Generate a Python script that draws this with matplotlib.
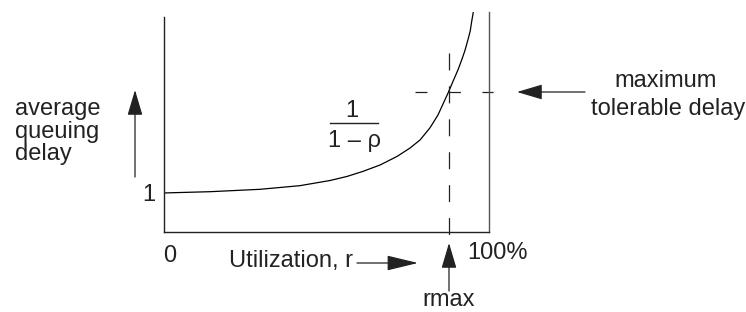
import numpy as np
import matplotlib
matplotlib.use("Agg")
import matplotlib.pyplot as plt
from matplotlib.patches import ArrowStyle

plt.rcParams['font.family'] = ['Liberation Sans', 'DejaVu Sans']
plt.rcParams['lines.scale_dashes'] = False

# curve (utilization, average queuing delay)
utilization = [0, 0.142, 0.295, 0.418, 0.511, 0.563, 0.612, 0.665, 0.717,
               0.757, 0.788, 0.818, 0.843, 0.874, 0.889, 0.905, 0.917,
               0.926, 0.935, 0.942, 0.947, 0.952]
delay = [1.0, 1.09, 1.26, 1.52, 1.89, 2.18, 2.54, 3.0, 3.61,
         4.21, 4.79, 5.64, 6.57, 8.14, 8.96, 9.82, 10.57,
         11.18, 11.93, 12.55, 13.29, 13.96]

rmax = 0.877
max_delay = 8.21
y_ticks = [1]
y_tick_labels = ['1']

FS = 17
INK = '#222222'

fig = plt.figure(figsize=(7.46, 3.12), dpi=100)

# main plot box (pixel box 164..489 x 12..232)
ax = fig.add_axes([164 / 746, 80 / 312, 325 / 746, 220 / 312])
ax.set_xlim(0, 1)
ax.set_ylim(-1.79, 13.93)
ax.plot(utilization, delay, color='black', lw=0.9,
        solid_joinstyle='round')

# rmax / max tolerable delay guides
ax.plot([rmax, rmax], [11.0, -2.07], color=INK, lw=0.9,
        dashes=(12.2, 11.5), clip_on=False)
ax.plot([0.772, 1.012], [max_delay, max_delay], color=INK, lw=0.9,
        dashes=(8.6, 15.5), clip_on=False)

ax.spines['top'].set_visible(False)
ax.spines['left'].set_bounds(-1.79, 13.57)
ax.spines['left'].set_color(INK)
ax.spines['bottom'].set_color(INK)
ax.spines['right'].set_color('#555555')
for s in ['left', 'bottom', 'right']:
    ax.spines[s].set_linewidth(1.0)
ax.set_xticks([])
ax.set_yticks(y_ticks)
ax.set_yticklabels(y_tick_labels, fontsize=FS, color=INK)
ax.tick_params(axis='y', length=0, pad=6)
ax.patch.set_alpha(0)

# annotation layer in pixel units
ov = fig.add_axes([0, 0, 1, 1])
ov.set_xlim(0, 746)
ov.set_ylim(312, 0)
ov.axis('off')


def txt(x, y, s, ha='left'):
    ov.text(x, y, s, fontsize=FS, color=INK, ha=ha, va='baseline')


def arrow(tail, tip, hl=15.8):
    style = ArrowStyle('-|>', head_length=hl, head_width=4.7)
    ov.annotate('', xy=tip, xytext=tail,
                arrowprops=dict(arrowstyle=style, mutation_scale=1,
                                color=INK, lw=0.9, shrinkA=0, shrinkB=0))


txt(15, 115, 'average')
txt(15, 138, 'queuing')
txt(15, 160, 'delay')
arrow((135, 177), (135, 90))

txt(163, 262, '0')
txt(229, 267, 'Utilization, r')
arrow((357, 263), (418, 263), hl=19.5)
txt(467, 259, '100%')
arrow((449, 291), (449, 243))
txt(449, 306, 'rmax', ha='center')

txt(666, 87, 'maximum', ha='center')
txt(668, 115, 'tolerable delay', ha='center')
arrow((585, 92), (517, 92))

# 1 / (1 - rho) label
txt(352, 117, '1', ha='center')
ov.plot([330, 378], [122.5, 122.5], color=INK, lw=1.0)
txt(354, 147, '1 \u2013 \u03c1', ha='center')

fig.savefig('out.png', dpi=100)
